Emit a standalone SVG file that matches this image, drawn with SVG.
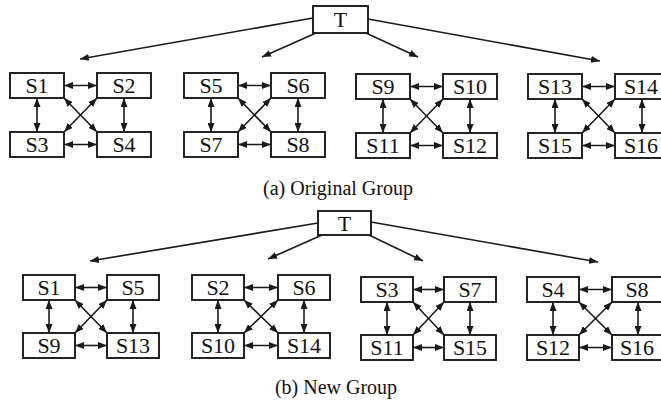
<svg xmlns="http://www.w3.org/2000/svg" width="661" height="404" viewBox="0 0 661 404">
<style>
rect{fill:#fff;stroke:#1a1a1a;stroke-width:1.9}
text{font-family:"Liberation Serif","Times New Roman",serif;fill:#111;text-anchor:middle}
.n{font-size:22px}
.cap{font-size:20px}
.c line{stroke:#1a1a1a;stroke-width:1.6}
.d line{marker-start:url(#ah);marker-end:url(#ah)}
.s line{marker-end:url(#ah)}
</style>
<defs>
<marker id="ah" viewBox="0 0 9 7" refX="9" refY="3.5" markerWidth="9" markerHeight="7" markerUnits="userSpaceOnUse" orient="auto-start-reverse">
<path d="M0,0 L9,3.5 L0,7 z" fill="#1a1a1a"/>
</marker>
</defs>
<rect x="0" y="0" width="661" height="404" style="fill:#fff;stroke:none"/>

<g id="connectors" class="c">
<g class="s">
<line x1="313" y1="18" x2="80" y2="59"/>
<line x1="316" y1="33" x2="262" y2="57"/>
<line x1="366" y1="33" x2="418" y2="57"/>
<line x1="368" y1="19" x2="600" y2="61"/>
<line x1="318" y1="223" x2="90" y2="261"/>
<line x1="322" y1="235" x2="268" y2="259"/>
<line x1="369" y1="235" x2="423" y2="261"/>
<line x1="371" y1="222" x2="598" y2="262"/>
</g>
<g class="d">
<line x1="64" y1="85.5" x2="97" y2="85.5"/>
<line x1="64" y1="144.5" x2="97" y2="144.5"/>
<line x1="37" y1="98" x2="37" y2="132"/>
<line x1="124" y1="98" x2="124" y2="132"/>
<line x1="64" y1="98" x2="97" y2="132"/>
<line x1="97" y1="98" x2="64" y2="132"/>

<line x1="238" y1="85.5" x2="271" y2="85.5"/>
<line x1="238" y1="144.5" x2="271" y2="144.5"/>
<line x1="211" y1="98" x2="211" y2="132"/>
<line x1="298" y1="98" x2="298" y2="132"/>
<line x1="238" y1="98" x2="271" y2="132"/>
<line x1="271" y1="98" x2="238" y2="132"/>

<line x1="410" y1="86.5" x2="443" y2="86.5"/>
<line x1="410" y1="145.5" x2="443" y2="145.5"/>
<line x1="383" y1="99" x2="383" y2="133"/>
<line x1="470" y1="99" x2="470" y2="133"/>
<line x1="410" y1="99" x2="443" y2="133"/>
<line x1="443" y1="99" x2="410" y2="133"/>

<line x1="582" y1="86.5" x2="615" y2="86.5"/>
<line x1="582" y1="145.5" x2="615" y2="145.5"/>
<line x1="555" y1="99" x2="555" y2="133"/>
<line x1="642" y1="99" x2="642" y2="133"/>
<line x1="582" y1="99" x2="615" y2="133"/>
<line x1="615" y1="99" x2="582" y2="133"/>

<line x1="75" y1="287.5" x2="107" y2="287.5"/>
<line x1="75" y1="345.5" x2="107" y2="345.5"/>
<line x1="49" y1="300" x2="49" y2="333"/>
<line x1="133" y1="300" x2="133" y2="333"/>
<line x1="75" y1="300" x2="107" y2="333"/>
<line x1="107" y1="300" x2="75" y2="333"/>

<line x1="244" y1="287.5" x2="278" y2="287.5"/>
<line x1="244" y1="345.5" x2="278" y2="345.5"/>
<line x1="218" y1="300" x2="218" y2="333"/>
<line x1="304" y1="300" x2="304" y2="333"/>
<line x1="244" y1="300" x2="278" y2="333"/>
<line x1="278" y1="300" x2="244" y2="333"/>

<line x1="413" y1="289.5" x2="444" y2="289.5"/>
<line x1="413" y1="347.5" x2="444" y2="347.5"/>
<line x1="387" y1="302" x2="387" y2="335"/>
<line x1="470" y1="302" x2="470" y2="335"/>
<line x1="413" y1="302" x2="444" y2="335"/>
<line x1="444" y1="302" x2="413" y2="335"/>

<line x1="579" y1="289.5" x2="612" y2="289.5"/>
<line x1="579" y1="347.5" x2="612" y2="347.5"/>
<line x1="553" y1="302" x2="553" y2="335"/>
<line x1="638" y1="302" x2="638" y2="335"/>
<line x1="579" y1="302" x2="612" y2="335"/>
<line x1="612" y1="302" x2="579" y2="335"/>
</g>
</g>

<g id="a-T"><rect x="313" y="6" width="55" height="27"/><text class="n" x="340.5" y="27">T</text></g>
<g id="a-S1"><rect x="10" y="73" width="54" height="25"/><text class="n" x="37" y="93">S1</text></g>
<g id="a-S2"><rect x="97" y="73" width="54" height="25"/><text class="n" x="124" y="93">S2</text></g>
<g id="a-S3"><rect x="10" y="132" width="54" height="25"/><text class="n" x="37" y="152">S3</text></g>
<g id="a-S4"><rect x="97" y="132" width="54" height="25"/><text class="n" x="124" y="152">S4</text></g>
<g id="a-S5"><rect x="184" y="73" width="54" height="25"/><text class="n" x="211" y="93">S5</text></g>
<g id="a-S6"><rect x="271" y="73" width="54" height="25"/><text class="n" x="298" y="93">S6</text></g>
<g id="a-S7"><rect x="184" y="132" width="54" height="25"/><text class="n" x="211" y="152">S7</text></g>
<g id="a-S8"><rect x="271" y="132" width="54" height="25"/><text class="n" x="298" y="152">S8</text></g>
<g id="a-S9"><rect x="356" y="74" width="54" height="25"/><text class="n" x="383" y="94">S9</text></g>
<g id="a-S10"><rect x="443" y="74" width="54" height="25"/><text class="n" x="470" y="94">S10</text></g>
<g id="a-S11"><rect x="356" y="133" width="54" height="25"/><text class="n" x="383" y="153">S11</text></g>
<g id="a-S12"><rect x="443" y="133" width="54" height="25"/><text class="n" x="470" y="153">S12</text></g>
<g id="a-S13"><rect x="528" y="74" width="54" height="25"/><text class="n" x="555" y="94">S13</text></g>
<g id="a-S14"><rect x="615" y="74" width="54" height="25"/><text class="n" x="641" y="94">S14</text></g>
<g id="a-S15"><rect x="528" y="133" width="54" height="25"/><text class="n" x="555" y="153">S15</text></g>
<g id="a-S16"><rect x="615" y="133" width="54" height="25"/><text class="n" x="641" y="153">S16</text></g>

<text class="cap" x="338" y="195">(a) Original Group</text>

<g id="b-T"><rect x="318" y="211" width="53" height="24"/><text class="n" x="344.5" y="231">T</text></g>
<g id="b-S1"><rect x="23" y="275" width="52" height="25"/><text class="n" x="49" y="295">S1</text></g>
<g id="b-S5"><rect x="107" y="275" width="52" height="25"/><text class="n" x="133" y="295">S5</text></g>
<g id="b-S9"><rect x="23" y="333" width="52" height="25"/><text class="n" x="49" y="353">S9</text></g>
<g id="b-S13"><rect x="107" y="333" width="52" height="25"/><text class="n" x="133" y="353">S13</text></g>
<g id="b-S2"><rect x="192" y="275" width="52" height="25"/><text class="n" x="218" y="295">S2</text></g>
<g id="b-S6"><rect x="278" y="275" width="52" height="25"/><text class="n" x="304" y="295">S6</text></g>
<g id="b-S10"><rect x="192" y="333" width="52" height="25"/><text class="n" x="218" y="353">S10</text></g>
<g id="b-S14"><rect x="278" y="333" width="52" height="25"/><text class="n" x="304" y="353">S14</text></g>
<g id="b-S3"><rect x="361" y="277" width="52" height="25"/><text class="n" x="387" y="297">S3</text></g>
<g id="b-S7"><rect x="444" y="277" width="52" height="25"/><text class="n" x="470" y="297">S7</text></g>
<g id="b-S11"><rect x="361" y="335" width="52" height="25"/><text class="n" x="387" y="355">S11</text></g>
<g id="b-S15"><rect x="444" y="335" width="52" height="25"/><text class="n" x="470" y="355">S15</text></g>
<g id="b-S4"><rect x="527" y="277" width="52" height="25"/><text class="n" x="553" y="297">S4</text></g>
<g id="b-S8"><rect x="612" y="277" width="52" height="25"/><text class="n" x="637" y="297">S8</text></g>
<g id="b-S12"><rect x="527" y="335" width="52" height="25"/><text class="n" x="553" y="355">S12</text></g>
<g id="b-S16"><rect x="612" y="335" width="52" height="25"/><text class="n" x="637" y="355">S16</text></g>

<text class="cap" x="336" y="394">(b) New Group</text>
</svg>
